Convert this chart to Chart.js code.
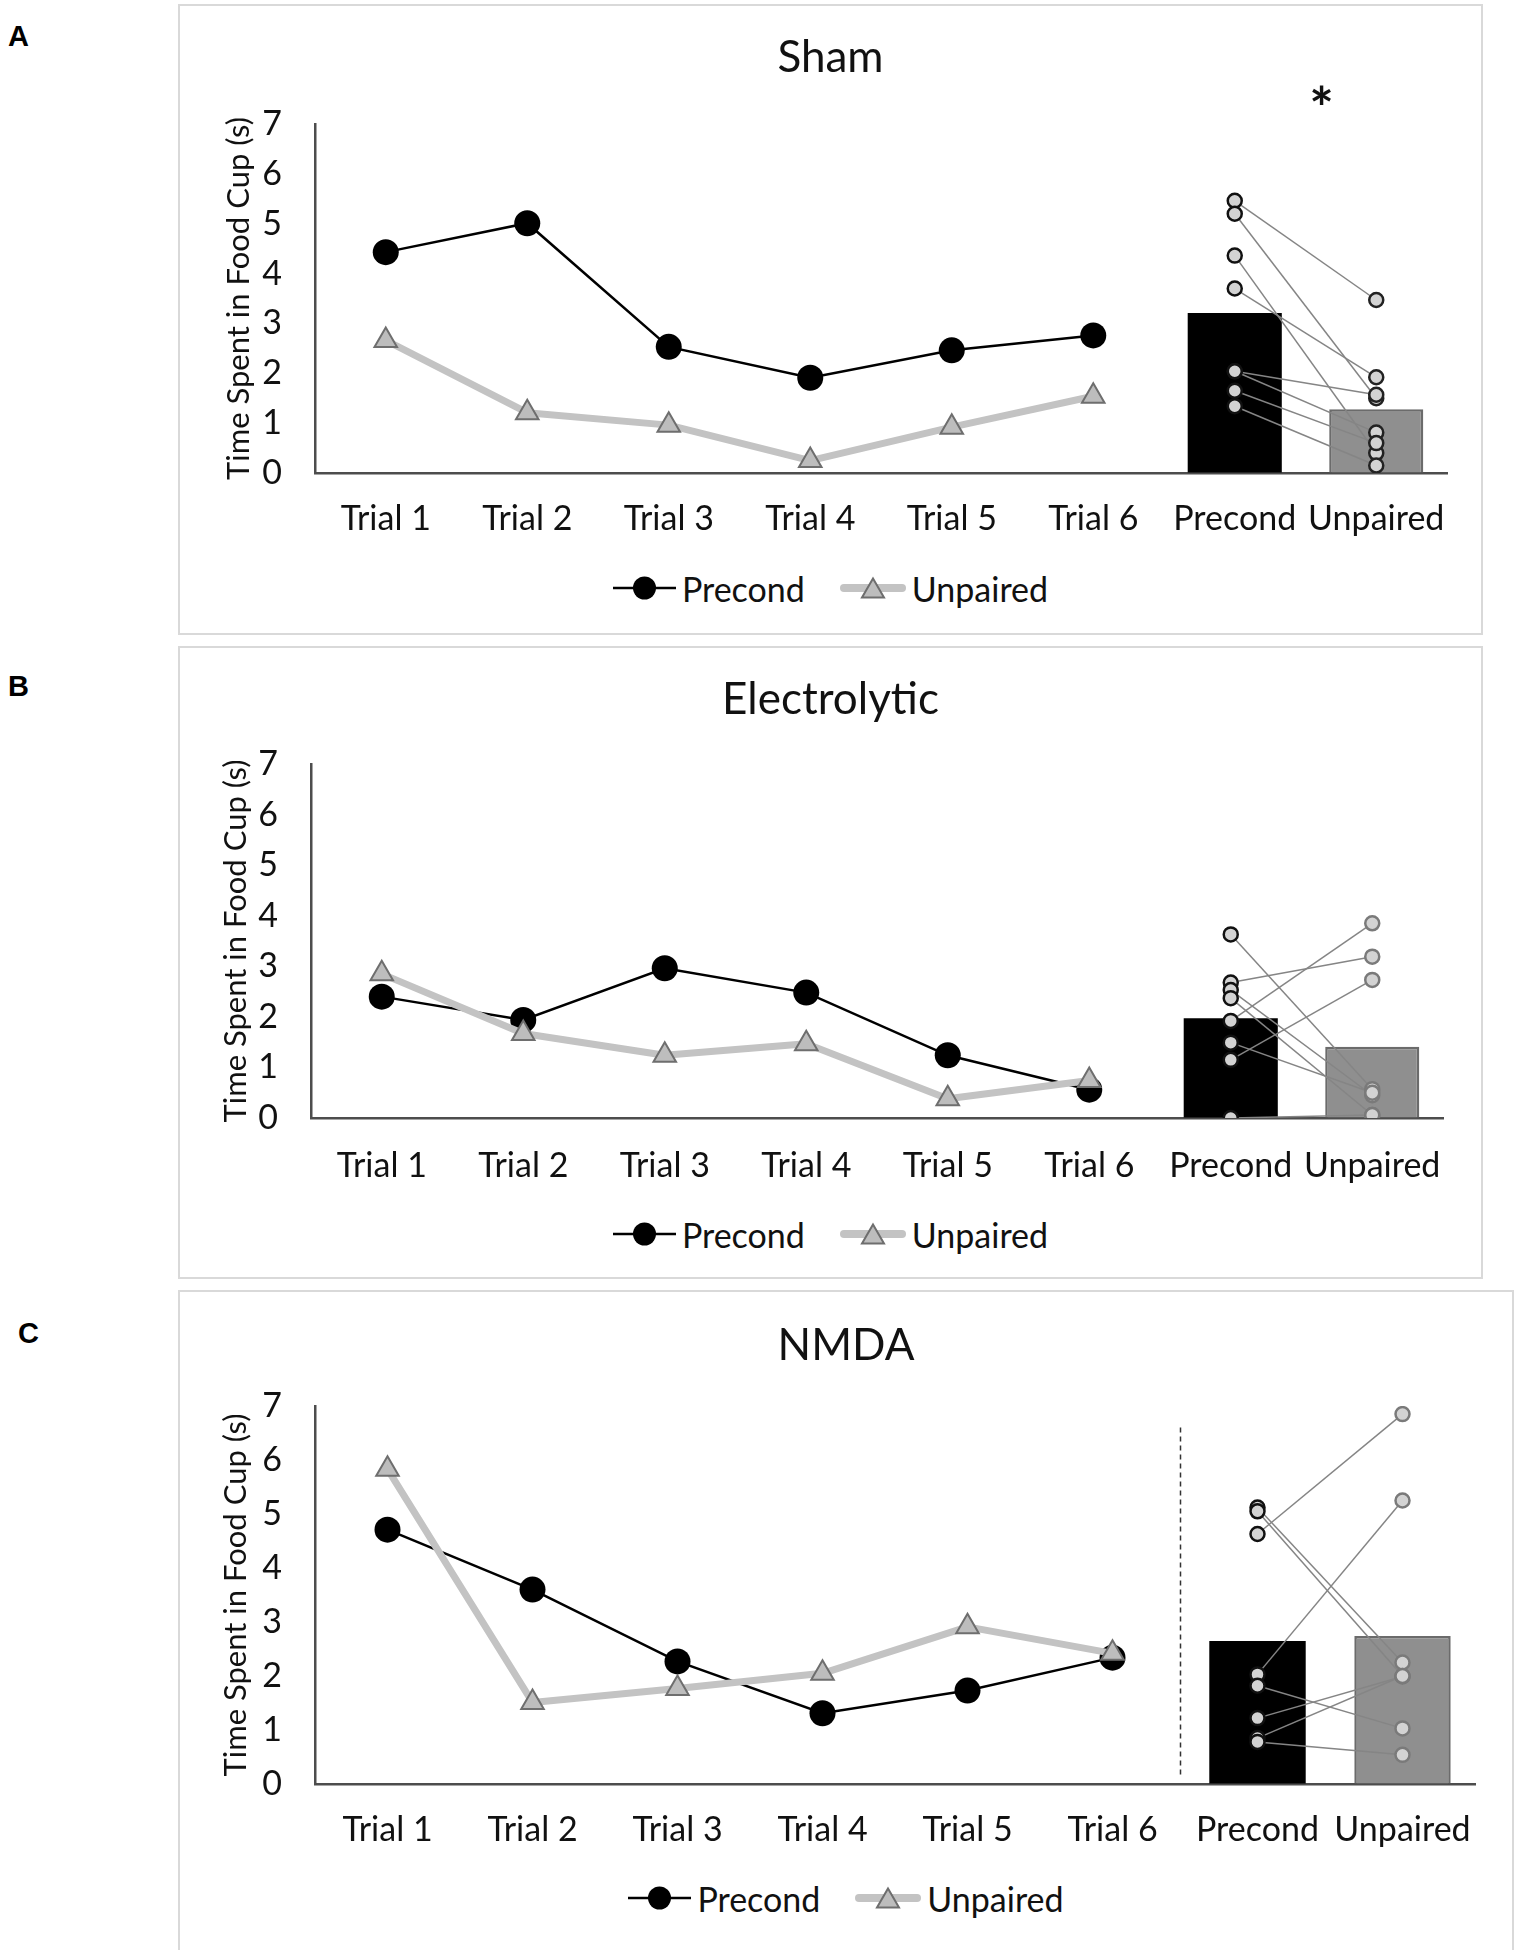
<!DOCTYPE html>
<html>
<head>
<meta charset="utf-8">
<script src="https://cdn.jsdelivr.net/npm/chart.js@4.4.0/dist/chart.umd.min.js"></script>
<style>
body { margin:0; background:#fff; width:1514px; height:1950px; position:relative; overflow:hidden; font-family: Lato, 'Noto Sans', sans-serif; }
.panel { position:absolute; }
.frame { position:absolute; left:0; top:0; right:0; bottom:0; border:2px solid #d9d9d9; box-sizing:border-box; }
.panel canvas { position:absolute; left:0; top:0; }
.tag { position:absolute; font: bold 29px 'Liberation Sans', Arial, sans-serif; line-height:29px; color:#000; }
.legend { position:absolute; left:0; right:0; height:44px; display:flex; justify-content:center; align-items:center; font-size:34px; color:#111; }
.legend .item { display:flex; align-items:center; }
.legend .item + .item { margin-left:35px; }
.legend svg { margin-right:6px; }
</style>
</head>
<body>
<div class="tag" style="left:8px; top:22px">A</div>
<div class="tag" style="left:8px; top:672px">B</div>
<div class="tag" style="left:18px; top:1319px">C</div>

<div class="panel" style="left:178px; top:4px; width:1305px; height:631px;">
  <div class="frame"></div>
  <canvas id="chartA" width="1305" height="560"></canvas>
  <div class="legend" id="legendA" style="top:562px"></div>
</div>
<div class="panel" style="left:178px; top:646px; width:1305px; height:633px;">
  <div class="frame"></div>
  <canvas id="chartB" width="1305" height="560"></canvas>
  <div class="legend" id="legendB" style="top:566px"></div>
</div>
<div class="panel" style="left:178px; top:1290px; width:1336px; height:680px;">
  <div class="frame"></div>
  <canvas id="chartC" width="1336" height="580"></canvas>
  <div class="legend" id="legendC" style="top:586px"></div>
</div>

<script>
// categories and ticks
const categories = ['Trial 1', 'Trial 2', 'Trial 3', 'Trial 4', 'Trial 5', 'Trial 6', 'Precond', 'Unpaired'];
const seriesNames = ['Precond', 'Unpaired'];
const yTicks = [0, 1, 2, 3, 4, 5, 6, 7];
const yTitle = 'Time Spent in Food Cup (s)';

// A - Sham
const shamPrecond = [4.43, 5.01, 2.53, 1.91, 2.46, 2.76];
const shamUnpaired = [2.66, 1.21, 0.96, 0.25, 0.92, 1.54];
const shamMeans = [3.21, 1.28];
const shamRatsPrecond = [5.46, 5.20, 4.36, 3.70, 2.04, 2.04, 1.65, 1.34];
const shamRatsUnpaired = [3.47, 1.50, 0.40, 1.92, 1.57, 0.81, 0.60, 0.15];

// B - Electrolytic
const electroPrecond = [2.40, 1.94, 2.96, 2.48, 1.24, 0.56];
const electroUnpaired = [2.85, 1.67, 1.24, 1.47, 0.38, 0.74];
const electroMeans = [1.97, 1.41];
const electroRatsPrecond = [3.63, 2.68, 2.53, 2.37, 1.92, 1.49, 1.15, 0.0];
const electroRatsUnpaired = [0.57, 3.19, 0.45, 0.06, 3.85, 0.50, 2.73, 0.06];

// C - NMDA
const nmdaPrecond = [4.71, 3.60, 2.27, 1.31, 1.73, 2.34];
const nmdaUnpaired = [5.83, 1.51, 1.77, 2.05, 2.91, 2.42];
const nmdaMeans = [2.65, 2.74];
const nmdaRatsPrecond = [5.12, 5.05, 4.63, 2.03, 1.82, 1.22, 0.85, 0.78];
const nmdaRatsUnpaired = [2.25, 2.00, 6.85, 5.25, 1.03, 1.99, 2.00, 0.54];

Chart.defaults.font.family = "Lato, 'Noto Sans', sans-serif";
Chart.defaults.color = '#111';

// star and divider drawn from the scales
const extrasPlugin = {
    id: 'extras',
    beforeDatasetsDraw(chart, args, opts) {
        if (!opts.divider) return;
        const { ctx, scales: { x, y } } = chart;
        const dx = Math.round((x.getPixelForValue(5) + x.getPixelForValue(6)) / 2) - 4.5;
        ctx.save();
        ctx.strokeStyle = '#333';
        ctx.lineWidth = 1.5;
        ctx.setLineDash([5, 4]);
        ctx.beginPath();
        ctx.moveTo(dx, y.getPixelForValue(6.6));
        ctx.lineTo(dx, y.getPixelForValue(0.12));
        ctx.stroke();
        ctx.restore();
    },
    afterDatasetsDraw(chart, args, opts) {
        if (!opts.star) return;
        const { ctx, scales: { x, y } } = chart;
        const cx = (x.getPixelForValue(6) + x.getPixelForValue(7)) / 2 + 16;
        ctx.save();
        ctx.font = 'bold 58px Lato';
        ctx.fillStyle = '#111';
        ctx.textAlign = 'center';
        ctx.textBaseline = 'alphabetic';
        ctx.fillText('*', cx, y.getPixelForValue(7) + 5);
        ctx.restore();
    }
};

function buildDatasets(precond, unpaired, means, ratsP, ratsU, ratBorderU) {
    const blanks = n => new Array(n).fill(null);
    const ds = [];
    ds.push({
        type: 'line', label: seriesNames[0],
        data: precond.concat(blanks(2)),
        borderColor: '#000', borderWidth: 2.5,
        pointRadius: 13, pointBackgroundColor: '#000', pointBorderWidth: 0,
        order: 2
    });
    ds.push({
        type: 'line', label: seriesNames[1],
        data: unpaired.concat(blanks(2)),
        borderColor: '#c3c3c3', borderWidth: 7, borderJoinStyle: 'round', borderCapStyle: 'round',
        pointStyle: 'triangle', pointRadius: 13,
        pointBackgroundColor: '#bdbdbd', pointBorderColor: '#6e6e6e', pointBorderWidth: 2,
        order: 1
    });
    ds.push({
        type: 'bar',
        data: blanks(precond.length).concat(means),
        backgroundColor: blanks(precond.length).concat(['#000', '#8f8f8f']),
        borderColor: blanks(precond.length).concat(['#000', '#6b6b6b']),
        borderWidth: blanks(precond.length).map(() => 0).concat([0, 2.5]),
        categoryPercentage: 1, barPercentage: 0.665,
        order: 10
    });
    // 각 개체 연결선
    ratsP.forEach((p, i) => {
        ds.push({
            type: 'line',
            data: [{ x: 'Precond', y: p }, { x: 'Unpaired', y: ratsU[i] }],
            borderColor: '#858585', borderWidth: 1.5, pointRadius: 0,
            order: 6
        });
    });
    ds.push({
        type: 'line', showLine: false,
        data: ratsP.map(v => ({ x: 'Precond', y: v })),
        pointRadius: 7, pointBackgroundColor: '#d3d3d3', pointBorderColor: '#111', pointBorderWidth: 2.5,
        order: 4
    });
    ds.push({
        type: 'line', showLine: false,
        data: ratsU.map(v => ({ x: 'Unpaired', y: v })),
        pointRadius: 7, pointBackgroundColor: '#d3d3d3', pointBorderColor: ratBorderU, pointBorderWidth: 2.5,
        order: 4
    });
    return ds;
}

function makePanel(canvasId, legendId, title, datasets, L, extras) {
    const canvas = document.getElementById(canvasId);
    new Chart(canvas, {
        type: 'bar',
        data: { labels: categories, datasets: datasets },
        options: {
            responsive: false,
            animation: false,
            devicePixelRatio: 1,
            layout: { padding: { left: 0, top: 0, right: 0, bottom: L.padBottom } },
            plugins: {
                legend: { display: false },
                tooltip: { enabled: false },
                title: {
                    display: true, text: title, color: '#111',
                    font: { size: 44, weight: 'normal' },
                    padding: { top: L.titleTop, bottom: L.titleBottom }
                },
                extras: extras
            },
            scales: {
                x: {
                    type: 'category', offset: true,
                    grid: { display: true, drawOnChartArea: false, drawTicks: false },
                    border: { color: '#4d4d4d', width: 2.5 },
                    ticks: { font: { size: 34 }, color: '#111', padding: L.xPad, maxRotation: 0, autoSkip: false },
                    afterFit: s => { s.height = 80; }
                },
                y: {
                    min: yTicks[0], max: yTicks[yTicks.length - 1],
                    afterBuildTicks: s => { s.ticks = yTicks.map(v => ({ value: v })); },
                    grid: { display: true, drawOnChartArea: false, drawTicks: false },
                    border: { color: '#4d4d4d', width: 2.5 },
                    ticks: { font: { size: 34 }, color: '#111', padding: 33 },
                    title: {
                        display: true, text: yTitle, color: '#111',
                        font: { size: 31 }, padding: { top: L.yTitlePad, bottom: 0 }
                    },
                    afterFit: s => { s.width = L.yWidth; }
                },
                // empty right gutter so the title centres on the whole frame
                gutter: {
                    type: 'linear', position: 'right',
                    grid: { display: false }, border: { display: false }, ticks: { display: false },
                    afterFit: s => { s.width = L.padRight; }
                }
            }
        },
        plugins: [extrasPlugin]
    });

    // 범례 (선 + 마커)
    const sym = [
        '<svg width="63" height="28"><line x1="0" y1="14" x2="63" y2="14" stroke="#000" stroke-width="2.5"/>' +
        '<circle cx="31.5" cy="14" r="11.5" fill="#000"/></svg>',
        '<svg width="66" height="28"><line x1="4" y1="14" x2="62" y2="14" stroke="#c3c3c3" stroke-width="8" stroke-linecap="round"/>' +
        '<polygon points="33,4.5 44,23.5 22,23.5" fill="#bdbdbd" stroke="#6e6e6e" stroke-width="2"/></svg>'
    ];
    document.getElementById(legendId).innerHTML = seriesNames
        .map((name, i) => '<span class="item">' + sym[i] + '<span>' + name + '</span></span>')
        .join('');
}

makePanel('chartA', 'legendA', 'Sham',
    buildDatasets(shamPrecond, shamUnpaired, shamMeans, shamRatsPrecond, shamRatsUnpaired, '#222'),
    { padRight: 36, padBottom: 11, titleTop: 27.6, titleBottom: 39.6, xPad: 25.6, yWidth: 137, yTitlePad: 42.4 },
    { star: true });

makePanel('chartB', 'legendB', 'Electrolytic',
    buildDatasets(electroPrecond, electroUnpaired, electroMeans, electroRatsPrecond, electroRatsUnpaired, '#7a7a7a'),
    { padRight: 40, padBottom: 8, titleTop: 27.6, titleBottom: 37.6, xPad: 27.6, yWidth: 133, yTitlePad: 39.4 },
    {});

makePanel('chartC', 'legendC', 'NMDA',
    buildDatasets(nmdaPrecond, nmdaUnpaired, nmdaMeans, nmdaRatsPrecond, nmdaRatsUnpaired, '#7a7a7a'),
    { padRight: 39, padBottom: 6, titleTop: 29.6, titleBottom: 33.6, xPad: 25.6, yWidth: 137, yTitlePad: 39.4 },
    { divider: true });
</script>
</body>
</html>
